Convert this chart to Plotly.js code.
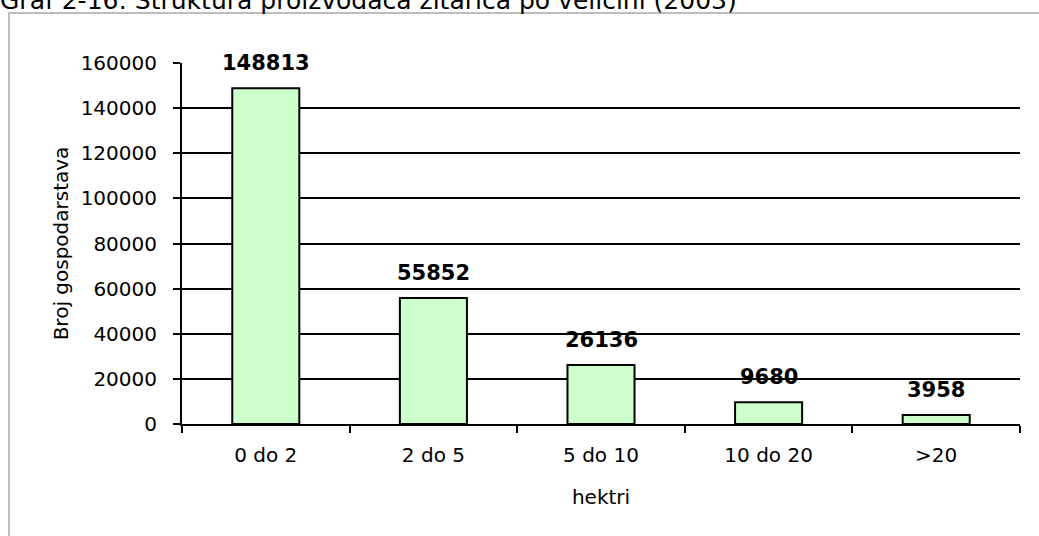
<!DOCTYPE html>
<html><head><meta charset="utf-8">
<script src="https://cdn.plot.ly/plotly-3.0.1.min.js"></script>
<style>body{margin:0;background:#fff}#c{width:1039px;height:536px}</style>
</head><body><div id="c"></div>
<script>
var categories = ["0 do 2", "2 do 5", "5 do 10", "10 do 20", ">20"];
var values = [148813, 55852, 26136, 9680, 3958];
var chartTitle = "Graf 2-16: Struktura proizvođača žitarica po veličini (2003)";

var font = "DejaVu Sans, Verdana, sans-serif";
var trace = {
  type: "bar", x: categories, y: values,
  marker: {color: "#CCFFCC", line: {color: "#000", width: 2}},
  width: 0.4, hoverinfo: "none"
};
var annotations = categories.map(function(c, i){
  return {x: c, y: values[i], xref: "x", yref: "y", text: "<b>" + values[i] + "</b>",
    showarrow: false, yanchor: "bottom", yshift: 11, font: {family: font, size: 21, color: "#000"}};
});
annotations.push({xref: "paper", yref: "paper", x: -0.2195, y: 1.1745, xanchor: "left", yanchor: "middle",
  text: chartTitle, showarrow: false, font: {family: font, size: 25, color: "#000"}});

var layout = {
  width: 1039, height: 536,
  margin: {l: 182, r: 19, t: 63, b: 112},
  paper_bgcolor: "#fff", plot_bgcolor: "#fff",
  showlegend: false,
  font: {family: font, size: 20, color: "#000"},
  xaxis: {
    type: "category", showline: true, linecolor: "#000", linewidth: 2,
    ticks: "outside", tickson: "boundaries", ticklen: 7, tickwidth: 2, tickcolor: "#000",
    showgrid: false, tickfont: {family: font, size: 20}, ticklabelstandoff: 12,
    title: {text: "hektri", font: {family: font, size: 20}, standoff: 24}
  },
  yaxis: {
    range: [0, 160000], dtick: 20000, tickformat: "d",
    showline: true, linecolor: "#000", linewidth: 2,
    ticks: "outside", ticklen: 7, tickwidth: 2, tickcolor: "#000",
    showgrid: true, gridcolor: "#000", gridwidth: 2, zeroline: false,
    tickfont: {family: font, size: 20}, ticklabelstandoff: 12,
    title: {text: "Broj gospodarstava", font: {family: font, size: 20}, standoff: 7}
  },
  annotations: annotations,
  shapes: [{type: "rect", xref: "paper", yref: "paper", x0: -0.2064, x1: 1.05, y0: -0.6, y1: 1.1385,
    line: {color: "#BDBDBD", width: 2}, fillcolor: "rgba(0,0,0,0)", layer: "below"}]
};
Plotly.newPlot("c", [trace], layout, {staticPlot: true});
</script></body></html>
